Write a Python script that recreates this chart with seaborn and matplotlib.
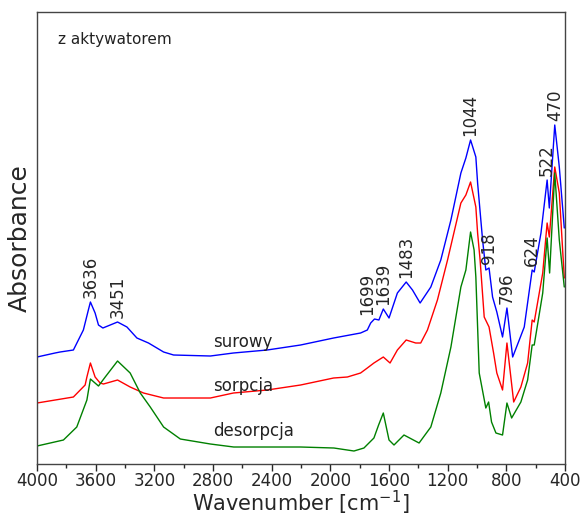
import numpy as np
import pandas as pd
import seaborn as sns
import matplotlib.pyplot as plt

sns.set_style("white")
plt.rcParams["font.family"] = ["DejaVu Sans"]

# surowy (blue)
wn_surowy = [4000, 3877, 3843, 3752, 3684, 3650, 3636, 3604, 3581, 3551, 3501, 3451,
             3387, 3319, 3240, 3137, 3069, 2818, 2661, 2431, 2203, 1978, 1794, 1748,
             1725, 1699, 1669, 1639, 1600, 1543, 1483, 1440, 1388, 1315, 1247, 1178,
             1110, 1076, 1044, 1008, 996, 974, 962, 940, 918, 894, 865, 826, 796, 757,
             712, 678, 624, 610, 564, 522, 507, 470, 439, 405]
abs_surowy = [1.07, 1.11, 1.12, 1.14, 1.34, 1.54, 1.62, 1.51, 1.39, 1.36, 1.39, 1.42,
              1.37, 1.26, 1.21, 1.12, 1.09, 1.08, 1.11, 1.14, 1.19, 1.26, 1.31, 1.34,
              1.41, 1.45, 1.44, 1.55, 1.46, 1.71, 1.82, 1.74, 1.61, 1.77, 2.04, 2.44,
              2.91, 3.06, 3.24, 3.07, 2.81, 2.44, 2.24, 1.94, 1.96, 1.67, 1.52, 1.27,
              1.56, 1.07, 1.24, 1.37, 1.94, 1.92, 2.31, 2.84, 2.56, 3.39, 2.97, 2.36]

# sorpcja (red)
wn_sorpcja = [4000, 3752, 3672, 3660, 3636, 3604, 3570, 3547, 3451, 3365, 3274, 3137,
              2887, 2818, 2661, 2431, 2203, 1978, 1884, 1794, 1748, 1703, 1639, 1593,
              1543, 1483, 1418, 1384, 1338, 1270, 1201, 1110, 1076, 1044, 1008, 996,
              979, 951, 918, 887, 865, 826, 796, 750, 701, 655, 624, 610, 552, 522,
              507, 470, 439, 405]
abs_sorpcja = [0.61, 0.67, 0.79, 0.87, 1.01, 0.87, 0.81, 0.80, 0.84, 0.77, 0.71, 0.66,
               0.66, 0.66, 0.71, 0.74, 0.79, 0.86, 0.87, 0.91, 0.96, 1.01, 1.07, 1.01,
               1.14, 1.24, 1.21, 1.21, 1.34, 1.64, 2.04, 2.61, 2.69, 2.82, 2.57, 2.31,
               2.04, 1.47, 1.37, 1.11, 0.91, 0.74, 1.21, 0.62, 0.77, 1.01, 1.44, 1.42,
               1.91, 2.41, 2.27, 2.97, 2.71, 1.86]

# desorpcja (green)
wn_desorpcja = [4000, 3820, 3729, 3660, 3636, 3581, 3535, 3451, 3365, 3296, 3228, 3137,
                3023, 2818, 2659, 2431, 2203, 1976, 1839, 1771, 1703, 1671, 1639, 1600,
                1566, 1498, 1395, 1315, 1247, 1178, 1110, 1076, 1044, 1020, 1008, 985,
                940, 921, 901, 871, 826, 796, 764, 701, 655, 624, 610, 552, 522, 505,
                470, 439, 405]
abs_desorpcja = [0.18, 0.24, 0.37, 0.64, 0.85, 0.78, 0.87, 1.03, 0.91, 0.71, 0.57, 0.37,
                 0.25, 0.20, 0.17, 0.17, 0.17, 0.16, 0.13, 0.16, 0.26, 0.39, 0.51, 0.24,
                 0.19, 0.29, 0.21, 0.37, 0.71, 1.17, 1.77, 1.94, 2.32, 2.14, 1.87, 0.91,
                 0.56, 0.62, 0.42, 0.31, 0.29, 0.61, 0.46, 0.62, 0.84, 1.19, 1.19, 1.71,
                 2.26, 1.91, 2.91, 2.24, 1.77]

# peak labels on the blue curve
peak_wn = [3636, 3451, 1699, 1639, 1483, 1044, 918, 796, 624, 522, 470]
peak_abs = [1.62, 1.42, 1.45, 1.55, 1.82, 3.24, 1.96, 1.56, 1.94, 2.84, 3.39]

series_names = ["surowy", "sorpcja", "desorpcja"]
series_colors = ["blue", "red", "green"]
series_label_y = [1.22, 0.78, 0.33]

df = pd.concat([
    pd.DataFrame({"wn": wn_surowy, "A": abs_surowy, "sample": "surowy"}),
    pd.DataFrame({"wn": wn_sorpcja, "A": abs_sorpcja, "sample": "sorpcja"}),
    pd.DataFrame({"wn": wn_desorpcja, "A": abs_desorpcja, "sample": "desorpcja"}),
])

fig = plt.figure(figsize=(5.84, 5.17), dpi=100)
ax = fig.add_axes([0.0634, 0.1025, 0.9041, 0.8743])

sns.lineplot(data=df, x="wn", y="A", hue="sample", palette=series_colors,
             hue_order=series_names, linewidth=1.0, legend=False, ax=ax,
             estimator=None, sort=True)

for wn, a in zip(peak_wn, peak_abs):
    dx = -5 if wn == 1699 else 0
    ax.annotate(str(wn), xy=(wn, a), xytext=(dx, 3), textcoords="offset points",
                rotation=90, ha="center", va="bottom", fontsize=12)

for name, y in zip(series_names, series_label_y):
    ax.text(2800, y, name, ha="left", va="center", fontsize=12, color="#222222")

ax.text(0.04, 0.94, "z aktywatorem", transform=ax.transAxes, fontsize=11,
        ha="left", va="center", color="#222222")

ax.set_xlim(4000, 400)
ax.set_ylim(0, 4.52)
ax.set_xticks(np.arange(4000, 399, -400))
ax.set_xticks(np.arange(3800, 400, -400), minor=True)
ax.set_yticks([])
ax.tick_params(axis="x", which="major", direction="out", length=5, width=1,
               labelsize=12, bottom=True, pad=1)
ax.tick_params(axis="x", which="minor", direction="out", length=3, width=1,
               bottom=True)
for sp in ax.spines.values():
    sp.set_color("#444444")
    sp.set_linewidth(1.0)

ax.set_xlabel("Wavenumber [cm$^{-1}$]", fontsize=15, labelpad=-1)
ax.set_ylabel("Absorbance", fontsize=18, labelpad=4)

fig.savefig("out.png", dpi=100)
